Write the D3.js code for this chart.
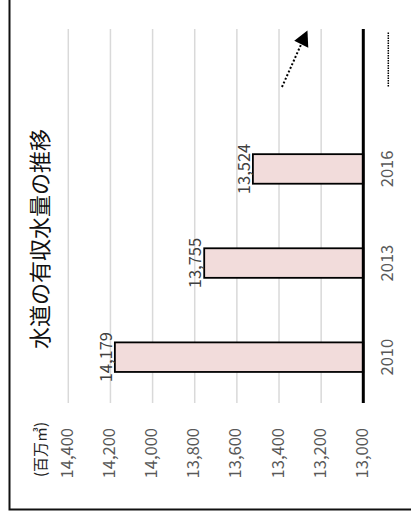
<!DOCTYPE html>
<html>
<head>
<meta charset="utf-8">
<script src="https://cdn.jsdelivr.net/npm/d3@7"></script>
<style>
  body { margin: 0; background: #fff; }
  text { font-family: "Noto Sans CJK JP", "Noto Sans", sans-serif; }
</style>
</head>
<body>
<div id="viz"></div>
<script>
// chart data
var years = ["2010", "2013", "2016"];
var values = [14179, 13755, 13524];
var ticks = [13000, 13200, 13400, 13600, 13800, 14000, 14200, 14400];
var slots = ["2010", "2013", "2016", "next"]; // last slot holds the trend arrow
var title = "水道の有収水量の推移";
var unitLabel = "(百万㎥)";
var trend = [13386, 13265]; // arrow start / tip, in value units

var W = 411, H = 525;

var svg = d3.select("#viz").append("svg")
    .attr("width", W)
    .attr("height", H);

// the whole chart is turned on its side: draw it as a column chart, then rotate
var g = svg.append("g")
    .attr("transform", "translate(0," + H + ") rotate(-90)");

var x = d3.scaleBand()
    .domain(slots)
    .range([122, 496])
    .paddingInner(0.686)
    .paddingOuter(0.33);

var y = d3.scaleLinear()
    .domain([13000, 14400])
    .range([363.3, 68.3]);

var fmt = d3.format(",");

// frame
g.append("rect")
    .attr("x", 15.5)
    .attr("y", 9.5)
    .attr("width", 530)
    .attr("height", 420)
    .attr("fill", "none")
    .attr("stroke", "#111")
    .attr("stroke-width", 2);

// gridlines
g.selectAll(".grid")
    .data(ticks.slice(1))
    .enter().append("line")
    .attr("class", "grid")
    .attr("x1", x.range()[0])
    .attr("x2", x.range()[1])
    .attr("y1", function(d) { return y(d); })
    .attr("y2", function(d) { return y(d); })
    .attr("stroke", "#d9d9d9")
    .attr("stroke-width", 1.5);

// value axis labels
g.selectAll(".tick")
    .data(ticks)
    .enter().append("text")
    .attr("class", "tick")
    .attr("x", 97)
    .attr("y", function(d) { return y(d); })
    .attr("dy", "0.28em")
    .attr("text-anchor", "end")
    .attr("font-size", 16.5)
    .attr("fill", "#595959")
    .text(fmt);

g.append("text")
    .attr("x", 48)
    .attr("y", 46)
    .attr("font-size", 15)
    .attr("fill", "#222")
    .text(unitLabel);

// bars
g.selectAll(".bar")
    .data(values)
    .enter().append("rect")
    .attr("class", "bar")
    .attr("x", function(d, i) { return x(years[i]); })
    .attr("width", x.bandwidth())
    .attr("y", function(d) { return y(d); })
    .attr("height", function(d) { return y(13000) - y(d); })
    .attr("fill", "#f2dcdb")
    .attr("stroke", "#000")
    .attr("stroke-width", 1.8);

// data labels
g.selectAll(".lbl")
    .data(values)
    .enter().append("text")
    .attr("class", "lbl")
    .attr("x", function(d, i) { return x(years[i]) + x.bandwidth() / 2; })
    .attr("y", function(d) { return y(d) - 3; })
    .attr("text-anchor", "middle")
    .attr("font-size", 16.5)
    .attr("fill", "#404040")
    .text(fmt);

// baseline
g.append("line")
    .attr("x1", x.range()[0])
    .attr("x2", x.range()[1])
    .attr("y1", y(13000))
    .attr("y2", y(13000))
    .attr("stroke", "#000")
    .attr("stroke-width", 3);

// category labels
g.selectAll(".year")
    .data(years)
    .enter().append("text")
    .attr("class", "year")
    .attr("x", function(d) { return x(d) + x.bandwidth() / 2; })
    .attr("y", y(13000) + 30)
    .attr("text-anchor", "middle")
    .attr("font-size", 16.5)
    .attr("fill", "#595959")
    .text(function(d) { return d; });

// title
g.append("text")
    .attr("x", 286)
    .attr("y", 48)
    .attr("text-anchor", "middle")
    .attr("font-size", 22)
    .attr("fill", "#111")
    .text(title);

// trend arrow in the last slot
var x0 = x("next");
var tip = [x0 + 59, y(trend[1])];
g.append("line")
    .attr("x1", x0 + 2.6)
    .attr("y1", y(trend[0]))
    .attr("x2", tip[0] - 13)
    .attr("y2", tip[1] - 6)
    .attr("stroke", "#000")
    .attr("stroke-width", 2)
    .attr("stroke-dasharray", "2,2");

g.append("path")
    .attr("d", "M" + tip[0] + "," + tip[1] +
        "L" + (tip[0] - 10.2) + "," + (tip[1] - 13.2) +
        "L" + (tip[0] - 17.2) + "," + (tip[1] + 0.8) + "Z")
    .attr("fill", "#000");

// dotted marker below the axis
g.append("line")
    .attr("x1", x0 + 3)
    .attr("x2", x0 + 57)
    .attr("y1", y(13000) + 25)
    .attr("y2", y(13000) + 25)
    .attr("stroke", "#000")
    .attr("stroke-width", 1.5)
    .attr("stroke-dasharray", "1.5,1");
</script>
</body>
</html>
